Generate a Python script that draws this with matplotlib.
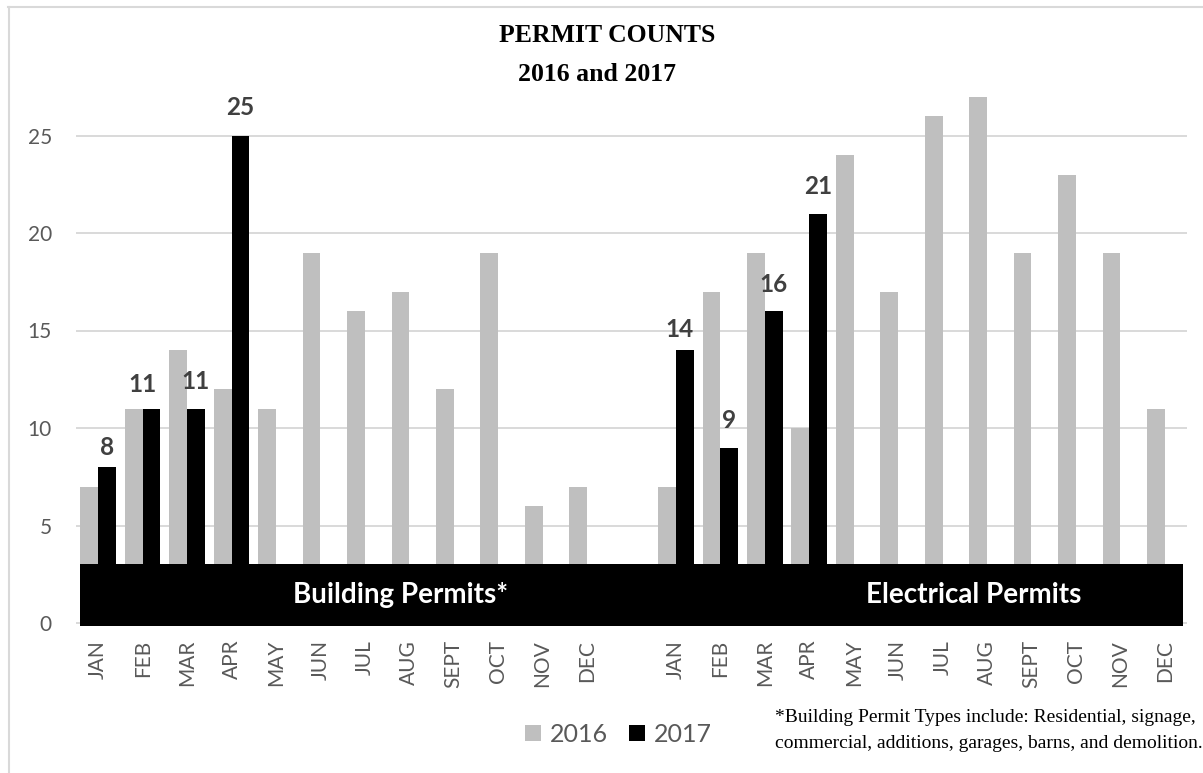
import numpy as np
import matplotlib
matplotlib.use("Agg")
import matplotlib.pyplot as plt
from matplotlib.patches import Rectangle, Patch
from matplotlib.lines import Line2D

# ---------------- data ----------------
months = ["JAN", "FEB", "MAR", "APR", "MAY", "JUN", "JUL", "AUG",
          "SEPT", "OCT", "NOV", "DEC"]
building_2016 = [7, 11, 14, 12, 11, 19, 16, 17, 12, 19, 6, 7]
building_2017 = [8, 11, 11, 25]
electrical_2016 = [7, 17, 19, 10, 24, 17, 26, 27, 19, 23, 19, 11]
electrical_2017 = [14, 9, 16, 21]
series_names = ["2016", "2017"]
group_names = ["Building Permits*", "Electrical Permits"]
title_lines = ["PERMIT COUNTS", "2016 and 2017"]
footnote_lines = ["*Building Permit Types include: Residential, signage,",
                  "commercial, additions, garages, barns, and demolition."]
yticks = [0, 5, 10, 15, 20, 25]

# ---------------- styling ----------------
W, H = 1203, 773
DPI = 100
C16 = "#bfbfbf"
C17 = "#000000"
TXT = "#595959"
LBL = "#404040"
SANS = ["Lato", "DejaVu Sans"]
SERIF = ["Liberation Serif", "DejaVu Serif"]

fig = plt.figure(figsize=(W / DPI, H / DPI), dpi=DPI)
fig.patch.set_facecolor("white")

ymin, ymax = -0.15, 28.0
px_per_unit = 19.5
y0_px = 623
ax_bottom_px = y0_px - ymin * px_per_unit
ax_top_px = y0_px - ymax * px_per_unit
left_px, right_px = 76, 1187
ax = fig.add_axes([left_px / W, 1 - ax_bottom_px / H,
                   (right_px - left_px) / W, (ax_bottom_px - ax_top_px) / H])

gap = 1
xb = np.arange(len(months))
xe = np.arange(len(months)) + len(months) + gap
bw = 0.4

ax.bar(xb - bw / 2, building_2016, width=bw, color=C16, zorder=2)
ax.bar(xb[:len(building_2017)] + bw / 2, building_2017, width=bw, color=C17, zorder=2)
ax.bar(xe - bw / 2, electrical_2016, width=bw, color=C16, zorder=2)
ax.bar(xe[:len(electrical_2017)] + bw / 2, electrical_2017, width=bw, color=C17, zorder=2)

# value labels (2017) with small manual nudges (points)
nudges_b = [(0, 8.4), (-6.5, 12.2), (0, 14), (0, 14.5)]
nudges_e = [(-3.6, 9.1), (0, 14.4), (0, 13.7), (0, 13.7)]
for xs, vals, nud in ((xb, building_2017, nudges_b), (xe, electrical_2017, nudges_e)):
    for i, v in enumerate(vals):
        ax.annotate(str(v), (xs[i] + bw / 2, v), xytext=nud[i], textcoords="offset points",
                    ha="center", va="baseline", fontsize=17.5, fontweight="bold",
                    color=LBL, family=SANS, zorder=5)

# black band with group names
ax.add_patch(Rectangle((-0.4, ymin), xe[-1] + 0.4 + 0.4, 3.05 - ymin,
                       facecolor="black", edgecolor="none", zorder=3))
ax.text(6.8, 1.04, group_names[0], ha="center", va="baseline", color="white",
        fontsize=20, fontweight="bold", family=SANS, zorder=4)
ax.text(19.7, 1.04, group_names[1], ha="center", va="baseline", color="white",
        fontsize=20, fontweight="bold", family=SANS, zorder=4)

ax.set_xlim(-0.5, xe[-1] + 0.5)
ax.set_ylim(ymin, ymax)
ax.set_yticks(yticks)
ax.set_yticklabels([str(t) for t in yticks], family=SANS, fontsize=15, color=TXT)
ax.set_xticks(np.concatenate([xb, xe]))
ax.set_xticklabels(months + months, rotation=90, family=SANS, fontsize=15, color=TXT)
ax.tick_params(axis="y", length=0, pad=17.3)
ax.tick_params(axis="x", length=0, pad=10)
for s in ax.spines.values():
    s.set_visible(False)
ax.grid(axis="y", color="#d9d9d9", linewidth=1.4, zorder=0)
ax.set_axisbelow(True)
ax.set_facecolor("none")

# title
fig.text(606.7 / W, 1 - 41.7 / H, title_lines[0], ha="center", va="baseline",
         fontsize=18.5, fontweight="bold", family=SERIF, color="black")
fig.text(596.7 / W, 1 - 80.7 / H, title_lines[1], ha="center", va="baseline",
         fontsize=18.5, fontweight="bold", family=SERIF, color="black")

# legend
handles = [Patch(facecolor=C16, edgecolor="none"), Patch(facecolor=C17, edgecolor="none")]
leg = fig.legend(handles, series_names, loc="center", ncol=2,
                 bbox_to_anchor=(618.5 / W, 1 - 734.5 / H), frameon=False,
                 prop={"family": SANS, "size": 18}, handlelength=0.64, handleheight=0.64,
                 handletextpad=0.36, columnspacing=0.85, borderpad=0, borderaxespad=0)
for t in leg.get_texts():
    t.set_color(TXT)

# footnote
fig.text(775 / W, 1 - 721.7 / H, footnote_lines[0], ha="left", va="baseline",
         fontsize=14, family=SERIF, color="black")
fig.text(775 / W, 1 - 748 / H, footnote_lines[1], ha="left", va="baseline",
         fontsize=14, family=SERIF, color="black")

# outer frame (partial)
fig.add_artist(Line2D([8 / W, 1.0], [1 - 7 / H, 1 - 7 / H], transform=fig.transFigure,
                      color="#d9d9d9", linewidth=1.5))
fig.add_artist(Line2D([8.5 / W, 8.5 / W], [0, 1 - 7 / H], transform=fig.transFigure,
                      color="#d9d9d9", linewidth=1.5))

fig.savefig("out.png", dpi=DPI, facecolor="white")
